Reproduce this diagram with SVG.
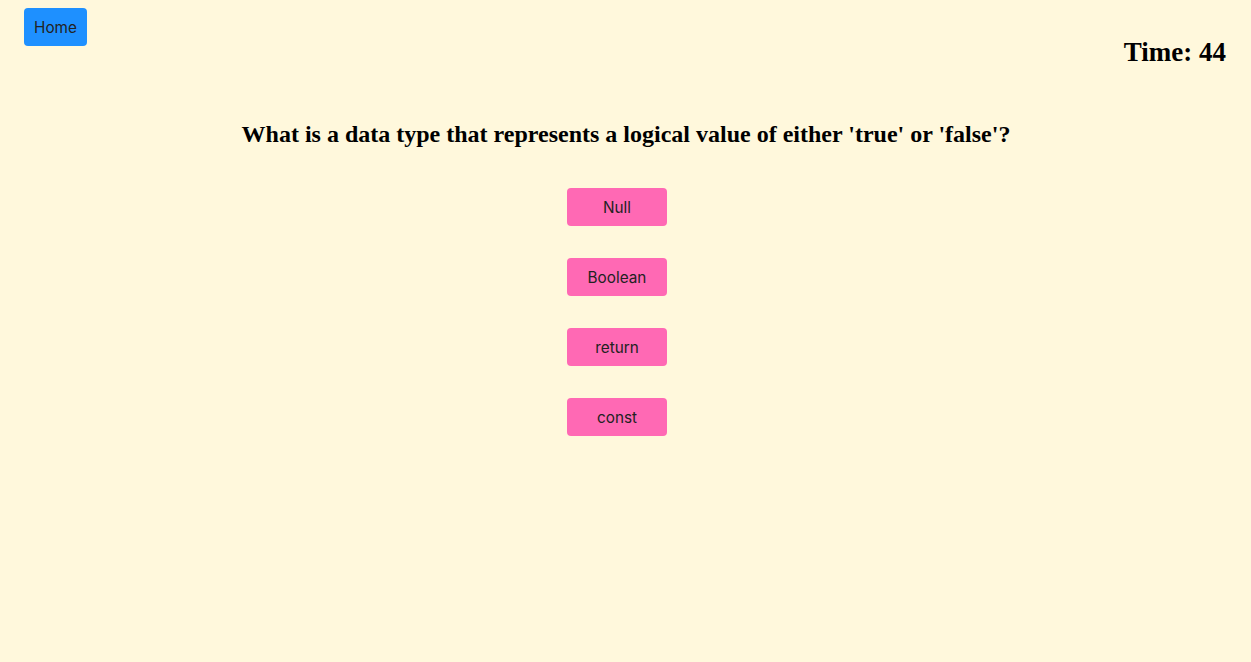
<svg xmlns="http://www.w3.org/2000/svg" width="1251" height="662" viewBox="0 0 1251 662">
<style>
.btn{fill:#FF69B4}
.bt{font-family:Inter,"Noto Sans",sans-serif;font-size:15.3px;fill:#222;text-anchor:middle}
.serif{font-family:"Liberation Serif","Times New Roman",serif;font-weight:bold;fill:#000}
</style>
<rect width="1251" height="662" fill="#FFF8DC"/>
<g id="home">
<rect x="24" y="8" width="63" height="38" rx="4" fill="#1E90FF"/>
<text x="55.5" y="33" class="bt">Home</text>
</g>
<g id="timer"><text x="1226" y="61" class="serif" font-size="27" text-anchor="end">Time: 44</text></g>
<g id="question"><text x="626" y="142" class="serif" font-size="24" text-anchor="middle">What is a data type that represents a logical value of either 'true' or 'false'?</text></g>
<g id="opt-null"><rect x="567" y="188" width="100" height="38" rx="4" class="btn"/><text x="617" y="213" class="bt">Null</text></g>
<g id="opt-boolean"><rect x="567" y="258" width="100" height="38" rx="4" class="btn"/><text x="617" y="283" class="bt">Boolean</text></g>
<g id="opt-return"><rect x="567" y="328" width="100" height="38" rx="4" class="btn"/><text x="617" y="353" class="bt">return</text></g>
<g id="opt-const"><rect x="567" y="398" width="100" height="38" rx="4" class="btn"/><text x="617" y="423" class="bt">const</text></g>
<g id="connectors"/>
</svg>
